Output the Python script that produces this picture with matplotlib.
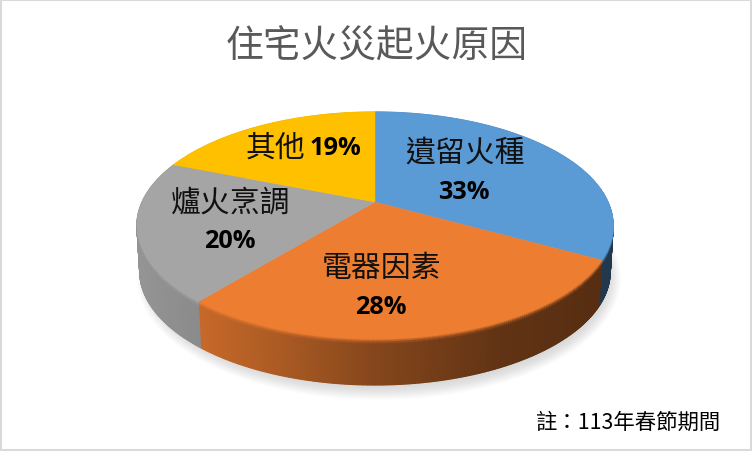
import numpy as np
import matplotlib
matplotlib.use("Agg")
import matplotlib.pyplot as plt
from matplotlib.collections import PolyCollection
from matplotlib.colors import to_rgb
from matplotlib.patches import Ellipse, Rectangle

plt.rcParams['font.family'] = ['Noto Sans CJK TC', 'DejaVu Sans']

#chart data
title = "住宅火災起火原因"
note = "註：113年春節期間"
names = ["遺留火種", "電器因素", "爐火烹調", "其他"]
values = [33, 28, 20, 19]
colors = ["#5B9BD5", "#ED7D31", "#A5A5A5", "#FFC000"]

#perspective of the pie, all in pixels of the picture
cx, cy = 375, 203
rx, ry, k = 232.9, 108.6, 0.207
depth = 46

def rim(theta, drop=0.0):
    #theta runs clockwise from twelve o'clock
    u = np.sin(theta)
    v = np.cos(theta)
    w = 1 + k * v
    shrink = 1 - 0.012 * drop / depth
    return cx + shrink * rx * u / w, cy - ry * v / w + drop

def shade(x):
    #wall gets darker from left to right
    return np.interp(x, [137, 197, 280, 375, 500, 613], [0.90, 0.84, 0.72, 0.56, 0.41, 0.36])

fig = plt.figure(figsize=(7.52, 4.52), dpi=100, facecolor="white")
ax = fig.add_axes([0, 0, 1, 1])
ax.set_xlim(0, 752)
ax.set_ylim(452, 0)
ax.axis("off")

#outer border
ax.add_patch(Rectangle((0.5, 0.5), 750, 450, fill=False, ec="#D9D9D9", lw=1.5))

#soft shadow under the pie
for i in range(14):
    ax.add_patch(Ellipse((379, 279), 2 * (242 - i), 2 * (122 - i), fc="#7F7F7F", ec="none", alpha=0.018, zorder=1))

edges = 2 * np.pi * np.cumsum([0] + values) / sum(values)

#side wall, in small quads so the colour can change along it
tiers = [0, 1.5, 3, 5, depth]
mix = [0.9, 0.55, 0.2, 0.0]
quads, quad_colors = [], []
for a, b, col in zip(edges[:-1], edges[1:], colors):
    base = np.array(to_rgb(col))
    n = max(int((b - a) / np.radians(0.5)), 2)
    th = np.linspace(a, b, n + 1)
    for j in range(n):
        for t in range(len(tiers) - 1):
            x0, y0 = rim(th[j], tiers[t])
            x1, y1 = rim(th[j + 1], tiers[t])
            x2, y2 = rim(th[j + 1], tiers[t + 1])
            x3, y3 = rim(th[j], tiers[t + 1])
            s = shade((x0 + x1) / 2)
            quads.append([(x0, y0), (x1, y1), (x2, y2), (x3, y3)])
            quad_colors.append(base * (mix[t] + (1 - mix[t]) * s))
ax.add_collection(PolyCollection(quads, facecolors=quad_colors, edgecolors=quad_colors, linewidths=0.9, zorder=2))

#top face
for a, b, col in zip(edges[:-1], edges[1:], colors):
    th = np.linspace(a, b, 200)
    x, y = rim(th)
    ax.fill(np.r_[cx, x], np.r_[cy, y], fc=col, ec=col, lw=0.3, zorder=3)

#texts
ax.text(377, 47, title, color="#595959", fontsize=27.2, ha="center", va="center")
ax.text(720, 423, note, color="black", fontsize=15.4, ha="right", va="center")

pct = [str(v) + "%" for v in values]
pct_font = dict(family="Open Sans", weight="bold", fontsize=18.2, color="black", ha="center", va="center", zorder=5)
name_font = dict(fontsize=21.5, color="#111111", ha="center", va="center", zorder=5)

ax.text(465, 153, names[0], **name_font)
ax.text(464, 193, pct[0], **pct_font)
ax.text(382, 269, names[1], **name_font)
ax.text(381, 308, pct[1], **pct_font)
ax.text(231, 203, names[2], **name_font)
ax.text(230, 242, pct[2], **pct_font)
ax.text(276, 148, names[3], **name_font)
ax.text(335, 149, pct[3], **pct_font)

fig.savefig("out.png", dpi=100)
